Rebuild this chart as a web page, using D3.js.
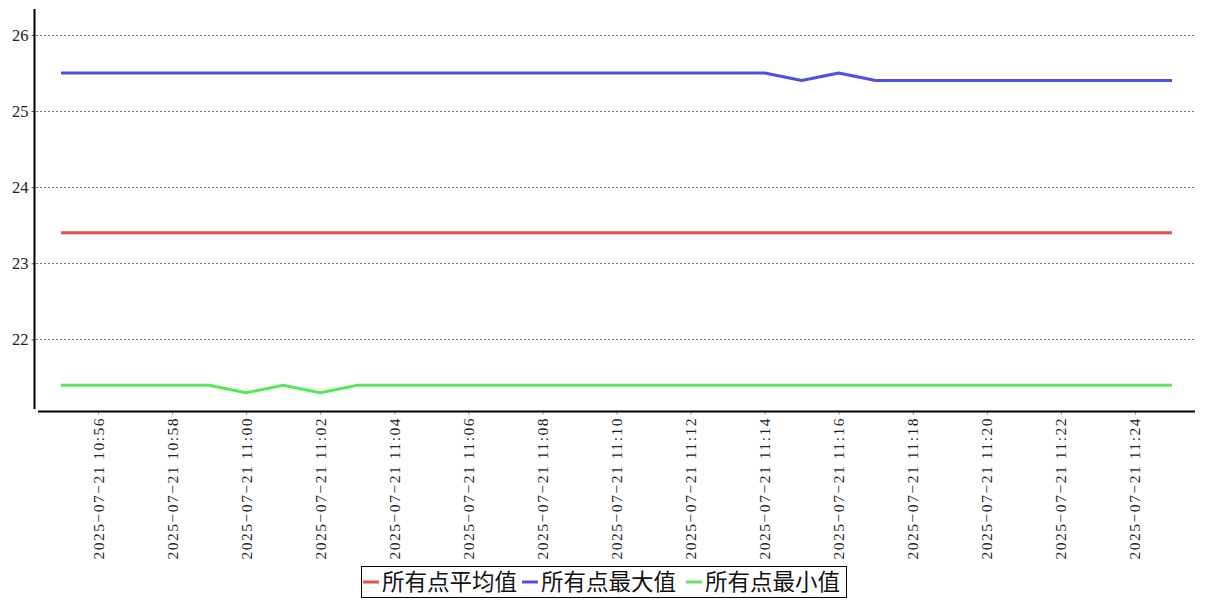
<!DOCTYPE html>
<html>
<head>
<meta charset="utf-8">
<script src="https://cdn.jsdelivr.net/npm/d3@7"></script>
<style>
  body { margin: 0; background: #fff; }
  svg { display: block; }
</style>
</head>
<body>
<svg id="chart" width="1207" height="600"></svg>
<script>
const times = [
  "10:55", "10:56", "10:57", "10:58", "10:59", "11:00", "11:01", "11:02",
  "11:03", "11:04", "11:05", "11:06", "11:07", "11:08", "11:09", "11:10",
  "11:11", "11:12", "11:13", "11:14", "11:15", "11:16", "11:17", "11:18",
  "11:19", "11:20", "11:21", "11:22", "11:23", "11:24", "11:25",
];
const avgValues = times.map(() => 23.4);
const maxValues = [
  25.5, 25.5, 25.5, 25.5, 25.5, 25.5, 25.5, 25.5, 25.5, 25.5,
  25.5, 25.5, 25.5, 25.5, 25.5, 25.5, 25.5, 25.5, 25.5, 25.5,
  25.4, 25.5, 25.4, 25.4, 25.4, 25.4, 25.4, 25.4, 25.4, 25.4, 25.4,
];
const minValues = [
  21.4, 21.4, 21.4, 21.4, 21.4, 21.3, 21.4, 21.3, 21.4, 21.4,
  21.4, 21.4, 21.4, 21.4, 21.4, 21.4, 21.4, 21.4, 21.4, 21.4,
  21.4, 21.4, 21.4, 21.4, 21.4, 21.4, 21.4, 21.4, 21.4, 21.4, 21.4,
];
const yTicks = [22, 23, 24, 25, 26];
const seriesNames = ["所有点平均值", "所有点最大值", "所有点最小值"];
const seriesColors = ["#e85050", "#5050e0", "#5ae65a"];

const svg = d3.select("#chart");
const parseTime = (t) => new Date(`2025-07-21T${t}:00`);
const fmt = d3.timeFormat("%Y-%m-%d %H:%M");

const dates = times.map(parseTime);
const series = [avgValues, maxValues, minValues].map((vals, i) => ({
  name: seriesNames[i],
  color: seriesColors[i],
  values: vals.map((v, j) => ({ date: dates[j], value: v })),
}));

const x = d3.scaleTime().domain(d3.extent(dates)).range([61, 1172]);
const y = d3.scaleLinear().domain([21.1, 26.34]).range([408, 9]);

// grid
svg.append("g")
  .selectAll("line")
  .data(yTicks)
  .join("line")
  .attr("x1", 36)
  .attr("x2", 1195)
  .attr("y1", (d) => Math.round(y(d)) + 0.5)
  .attr("y2", (d) => Math.round(y(d)) + 0.5)
  .attr("stroke", "#777")
  .attr("stroke-width", 1)
  .attr("stroke-dasharray", "2,2");

// y axis
const yAxis = svg.append("g")
  .attr("transform", "translate(34.5,0)")
  .call(d3.axisLeft(y).tickValues(yTicks).tickSize(3).tickSizeOuter(0).tickFormat(d3.format("d")));
yAxis.select(".domain").remove();
yAxis.selectAll(".tick line").attr("stroke", "#555");
yAxis.selectAll(".tick text")
  .attr("x", -6)
  .attr("font-family", "'Liberation Serif', serif")
  .attr("font-size", 16.5)
  .attr("fill", "#222");
svg.append("line")
  .attr("x1", 34.5).attr("x2", 34.5)
  .attr("y1", 9).attr("y2", 409)
  .attr("stroke", "#000").attr("stroke-width", 2);

// x axis
const xTicks = dates.filter((d, i) => i % 2 === 1);
const xAxis = svg.append("g")
  .attr("transform", "translate(0,411.5)")
  .call(d3.axisBottom(x).tickValues(xTicks).tickSize(3).tickSizeOuter(0).tickFormat(fmt));
xAxis.select(".domain").remove();
xAxis.selectAll(".tick line").attr("stroke", "#888");
xAxis.selectAll(".tick text")
  .attr("transform", "rotate(-90)")
  .attr("x", -7)
  .attr("y", 0)
  .attr("dy", "0.32em")
  .attr("text-anchor", "end")
  .attr("font-family", "'Liberation Serif', serif")
  .attr("font-size", 15.5)
  .attr("textLength", 141)
  .attr("lengthAdjust", "spacing")
  .attr("fill", "#222")
  .text((d) => fmt(d).replace(/-/g, "\u2212").replace(" ", "  "));
svg.append("line")
  .attr("x1", 38).attr("x2", 1195)
  .attr("y1", 411.5).attr("y2", 411.5)
  .attr("stroke", "#000").attr("stroke-width", 2);

// lines
const line = d3.line()
  .x((d) => x(d.date))
  .y((d) => y(d.value));

svg.append("g")
  .selectAll("path")
  .data(series)
  .join("path")
  .attr("d", (d) => line(d.values))
  .attr("fill", "none")
  .attr("stroke", (d) => d.color)
  .attr("stroke-width", 3)
  .attr("stroke-linejoin", "round");

// legend
const legend = svg.append("g");
legend.append("rect")
  .attr("x", 361.5).attr("y", 566.5)
  .attr("width", 485).attr("height", 31)
  .attr("fill", "#fff")
  .attr("stroke", "#000")
  .attr("stroke-width", 1);

const legendX = [363, 522, 686];
const item = legend.selectAll(".item")
  .data(series)
  .join("g")
  .attr("class", "item")
  .attr("transform", (d, i) => `translate(${legendX[i]},582)`);
item.append("line")
  .attr("x1", 0).attr("x2", 16)
  .attr("stroke", (d) => d.color)
  .attr("stroke-width", 3);
item.append("text")
  .attr("x", 19)
  .attr("dy", "0.36em")
  .attr("font-family", "'Noto Sans CJK SC', sans-serif")
  .attr("font-size", 22.5)
  .attr("fill", "#111")
  .text((d) => d.name);
</script>
</body>
</html>
